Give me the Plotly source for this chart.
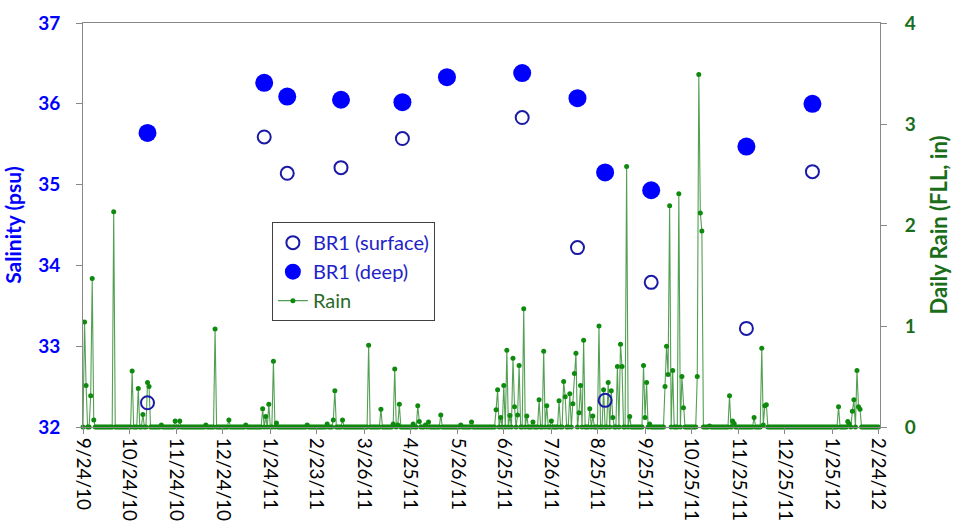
import datetime as dt
import plotly.graph_objects as go

# ---- Salinity samples at station BR1 ----
sample_dates = ["2010-11-05", "2011-01-20", "2011-02-04", "2011-03-11", "2011-04-20",
                "2011-05-19", "2011-07-07", "2011-08-12", "2011-08-30", "2011-09-29",
                "2011-11-30", "2012-01-12"]
salinity_surface = [32.30, 35.59, 35.14, 35.21, 35.57, None, 35.83, 34.22, 32.33, 33.79,
                    33.22, 35.16]
salinity_deep = [35.64, 36.26, 36.09, 36.05, 36.02, 36.33, 36.38, 36.07, 35.15, 34.93,
                 35.47, 36.00]

# ---- Daily rainfall at FLL (inches); days not listed had no rain ----
rain_start = "2010-09-24"
rain_end = "2012-02-24"
rain_days = [1, 2, 5, 6, 7, 20, 32, 36, 39, 42, 43, 51, 60, 63, 80, 86, 95, 106,
             117, 119, 121, 124, 126, 146, 159, 163, 164, 169, 186, 194, 202, 203,
             205, 206, 215, 218, 219, 223, 225, 233, 246, 253,
             269, 270, 272, 274, 276, 278, 280, 281, 283, 284, 287, 289, 293, 297,
             300, 302, 305, 310, 313, 314, 317, 319, 320, 321, 323, 324, 326, 330,
             332, 336, 339, 342, 344, 345, 348, 350, 351, 354, 356, 365, 366, 367,
             369, 379, 380, 381, 382, 384, 388, 390, 391, 400, 401, 402, 403, 408,
             421, 423, 424, 437, 442, 443, 444, 445, 492, 498, 499, 501, 502, 504,
             505, 506]
rain_amounts = [1.04, 0.41, 0.31, 1.47, 0.07, 2.13, 0.555, 0.38, 0.125, 0.44, 0.40,
                0.02, 0.06, 0.06, 0.02, 0.97, 0.07, 0.02,
                0.18, 0.105, 0.225, 0.65, 0.04, 0.02, 0.03, 0.07, 0.36, 0.07, 0.81,
                0.175, 0.03, 0.575, 0.02, 0.225, 0.03, 0.21, 0.055, 0.02, 0.05, 0.12,
                0.02, 0.05,
                0.17, 0.37, 0.095, 0.41, 0.76, 0.115, 0.68, 0.20, 0.12, 0.61, 1.17,
                0.11, 0.05, 0.27, 0.75, 0.21, 0.06, 0.26, 0.45, 0.30, 0.33, 0.23, 0.53,
                0.73, 0.14, 0.41, 0.86, 0.18, 0.11, 1.00, 0.37, 0.44, 0.36, 0.095, 0.60,
                0.82, 0.60, 2.58, 0.105, 0.61, 0.095, 0.44, 0.03, 0.40, 0.80, 0.52,
                2.19, 0.56, 2.31, 0.50, 0.19, 0.50, 3.49, 2.12, 1.94, 0.01, 0.31, 0.06,
                0.035, 0.095, 0.78, 0.02, 0.21, 0.22, 0.20, 0.055, 0.03, 0.155, 0.27,
                0.56, 0.20, 0.175]

tick_labels = ["9/24/10", "10/24/10", "11/24/10", "12/24/10", "1/24/11", "2/23/11",
               "3/26/11", "4/25/11", "5/26/11", "6/25/11", "7/26/11", "8/25/11",
               "9/25/11", "10/25/11", "11/25/11", "12/25/11", "1/25/12", "2/24/12"]

# Expand the rainy days into a full daily record
start = dt.date.fromisoformat(rain_start)
n_days = (dt.date.fromisoformat(rain_end) - start).days + 1
rain_lookup = dict(zip(rain_days, rain_amounts))
rain_dates = [start + dt.timedelta(days=i) for i in range(n_days)]
rain_values = [rain_lookup.get(i, 0.0) for i in range(n_days)]

tick_vals = [dt.datetime.strptime(t, "%m/%d/%y").date().isoformat() for t in tick_labels]

FONT = "Lato, 'Open Sans', sans-serif"
BLUE = "#0000ff"
RING = "#1a1aa6"
GREEN_TXT = "#1a6e1a"

fig = go.Figure()

fig.add_trace(go.Scatter(
    x=rain_dates, y=rain_values, mode="lines+markers",
    name="<span style='color:#2a6a2a'>Rain</span>",
    line=dict(color="rgba(40,135,40,0.8)", width=1.1),
    marker=dict(color="#0e8a0e", size=5),
    cliponaxis=False,
    yaxis="y", legendrank=3,
))
fig.add_trace(go.Scatter(
    x=sample_dates, y=salinity_surface, mode="markers",
    name="<span style='color:#2222c8'>BR1 (surface)</span>",
    marker=dict(symbol="circle-open", size=13, color=RING, line=dict(width=2, color=RING)),
    yaxis="y2", legendrank=1,
))
fig.add_trace(go.Scatter(
    x=sample_dates, y=salinity_deep, mode="markers",
    name="<span style='color:#2222c8'>BR1 (deep)</span>",
    marker=dict(symbol="circle", size=18, color=BLUE),
    yaxis="y2", legendrank=2,
))

fig.update_layout(
    width=955, height=527,
    margin=dict(l=83, r=75, t=23, b=100),
    paper_bgcolor="white", plot_bgcolor="white",
    font=dict(family=FONT, size=17, color="black"),
    showlegend=True,
    legend=dict(
        x=0.237, y=0.507, xanchor="left", yanchor="top",
        bgcolor="white", bordercolor="#404040", borderwidth=1,
        font=dict(family=FONT, size=20),
    ),
    xaxis=dict(
        type="date", range=["2010-09-24", "2012-02-25"], automargin=False,
        tickmode="array", tickvals=tick_vals, ticktext=tick_labels,
        tickangle=90, tickfont=dict(family=FONT, size=19, color="black"),
        ticks="outside", ticklen=6, tickcolor="#888888",
        showline=True, linecolor="#888888", linewidth=1, mirror=True,
        showgrid=False, zeroline=False,
    ),
    yaxis=dict(
        side="right", range=[0, 4], dtick=1, automargin=False,
        title=dict(text="<b>Daily Rain (FLL, in)</b>",
                   font=dict(family=FONT, size=22, color=GREEN_TXT), standoff=16),
        tickfont=dict(family=FONT, size=19, color=GREEN_TXT, weight="bold"),
        ticks="outside", ticklen=6, tickcolor="#888888", ticklabelstandoff=14,
        showline=True, linecolor="#888888", linewidth=1,
        showgrid=False, zeroline=False,
    ),
    yaxis2=dict(
        side="left", overlaying="y", range=[32, 37], dtick=1, automargin=False,
        title=dict(text="<b>Salinity (psu)</b>",
                   font=dict(family=FONT, size=21, color=BLUE), standoff=16),
        tickfont=dict(family=FONT, size=19, color=BLUE, weight="bold"),
        ticks="outside", ticklen=6, tickcolor="#888888", ticklabelstandoff=12,
        showline=True, linecolor="#888888", linewidth=1,
        showgrid=False, zeroline=False,
    ),
)

fig.write_html("out.html")
